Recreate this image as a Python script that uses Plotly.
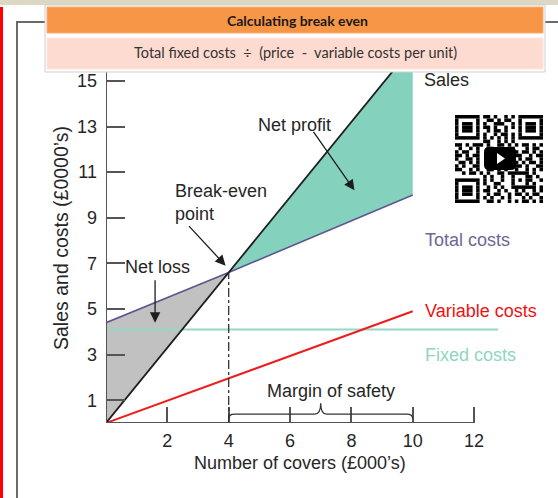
import plotly.graph_objects as go

# ---------------- data ----------------
covers = [0, 4, 10]                 # number of covers (£000's); break-even at 4
sales = [0, 6.6, 16.5]              # sales (£0000's)
total_costs = [4.4, 6.6, 10.0]
variable_costs = [0, 1.96, 4.9]
fixed_costs = 4.1
fixed_span = [0, 12.78]
x_ticks = [2, 4, 6, 8, 10, 12]
y_ticks = [1, 3, 5, 7, 9, 11, 13, 15]
title_text = "Calculating break even"
subtitle_text = "Total fixed costs  \u00f7  (price  -  variable costs per unit)"

# ---------------- geometry helpers ----------------
W, H = 558, 498
L, R, T, B = 106, 60, 72, 75
PW, PH = W - L - R, H - T - B
X_MAX = 12.78
Y_MAX = 15.39


def px(x):
    return (x - L) / PW


def py(y):
    return (H - B - y) / PH


FONT = "Liberation Sans, Arial, sans-serif"
TXT = "#262626"

fig = go.Figure()

# net loss area (grey)
fig.add_trace(go.Scatter(
    x=[covers[0], covers[0], covers[1], covers[0]],
    y=[sales[0], total_costs[0], total_costs[1], sales[0]],
    fill="toself", fillcolor="#c1c1c1", mode="lines", line=dict(width=0),
    hoverinfo="skip", showlegend=False))
# net profit area (teal)
fig.add_trace(go.Scatter(
    x=[covers[1], covers[2], covers[2], covers[1]],
    y=[sales[1], sales[2], total_costs[2], total_costs[1]],
    fill="toself", fillcolor="#84d2bd", mode="lines", line=dict(width=0),
    hoverinfo="skip", showlegend=False))
# fixed costs
fig.add_trace(go.Scatter(x=fixed_span, y=[fixed_costs, fixed_costs], mode="lines",
                         line=dict(color="#95d8c6", width=2), showlegend=False))
# variable costs
fig.add_trace(go.Scatter(x=covers, y=variable_costs, mode="lines",
                         line=dict(color="#ee1c1c", width=2), showlegend=False))
# total costs
fig.add_trace(go.Scatter(x=covers, y=total_costs, mode="lines",
                         line=dict(color="#5e5590", width=1.6), showlegend=False))
# sales
fig.add_trace(go.Scatter(x=covers, y=sales, mode="lines",
                         line=dict(color="#1e1e1e", width=1.8), showlegend=False))

shapes = []
# axes lines
shapes.append(dict(type="line", xref="x", yref="y", x0=0, x1=x_ticks[-1], y0=0, y1=0,
                   line=dict(color="#555", width=2), layer="above"))
shapes.append(dict(type="line", xref="x", yref="y", x0=0, x1=0, y0=0, y1=Y_MAX,
                   line=dict(color="#555", width=2), layer="above"))
# break-even drop line
shapes.append(dict(type="line", xref="x", yref="y", x0=covers[1], x1=covers[1], y0=0, y1=sales[1],
                   line=dict(color="#333", width=1.3, dash="dashdot"), layer="above"))
# margin of safety brace
bx0, bx1 = covers[1], covers[2]
bm = (bx0 + bx1) / 2
by = 0.39
brace = (f"M {bx0},{by-0.2} Q {bx0},{by} {bx0+0.2},{by} L {bm-0.2},{by} "
         f"Q {bm},{by} {bm},{by+0.48} Q {bm},{by} {bm+0.2},{by} L {bx1-0.2},{by} "
         f"Q {bx1},{by} {bx1},{by-0.2}")
shapes.append(dict(type="path", xref="x", yref="y", path=brace,
                   line=dict(color="#333", width=1.3), layer="above"))


def prect(x0, y0, x1, y1, fill, line=None, lw=0):
    return dict(type="rect", xref="paper", yref="paper",
                x0=px(x0), x1=px(x1), y0=py(y1), y1=py(y0),
                fillcolor=fill, line=dict(color=line or fill, width=lw), layer="above")


# page decorations
shapes.append(prect(0, 0, 558, 5, "#ddd8c3"))
shapes.append(prect(0, 7, 3, 498, "#ff0000"))
shapes.append(dict(type="path", xref="paper", yref="paper",
                   path=f"M {px(17)},{py(498)} L {px(17)},{py(22)} L {px(558)},{py(22)}",
                   line=dict(color="#6a6a6a", width=2), layer="above"))
shapes.append(prect(45, 5, 545, 72, "#ffffff", "#cfcfcf", 1))
shapes.append(prect(47, 7, 543, 33, "#f79646", "#f9ad75", 1))
shapes.append(prect(47, 38, 543, 69, "#fddbd0", "#fde6df", 1))

# QR code (approximation)
qr_rows = [
    "#######.##.#..#.#.#######",
    "#.....#..##.#.##..#.....#",
    "#.###.#.#..###..#.#.###.#",
    "#.###.#.##.#..#.#.#.###.#",
    "#.###.#..#.##.#...#.###.#",
    "#.....#.#..#.##.#.#.....#",
    "#######.#.#.#.#.#.#######",
    "........##..#.#.#........",
    "##.#.###.#..##.#.#.##.#.#",
    ".#..#.#..##.#..##...#.##.",
    "#.##..#..........#.##.#.#",
    "##.#.##..........##..#.##",
    "#..##.#...........#.##..#",
    ".##.#.#..........#.#.##.#",
    "#.#..##..........##.#..##",
    "##..#.#..##.#.#..#..#.#.#",
    "..#.##.#.#..##.######.#..",
    "........#.#..#..#...##.#.",
    "#######.#.#..#..#.#.##..#",
    "#.....#.#..##...#...#.#..",
    "#.###.#..#.#.#..#######.#",
    "#.###.#.##..#.#..#.#..#.#",
    "#.###.#..#.##..#.##.#.##.",
    "#.....#.#.#..#.#...#.#..#",
    "#######..##.#..#.#.##.#.#",
]
qx0, qy0, cell = 455.0, 115.0, 3.52
for r, row in enumerate(qr_rows):
    row = row[:25].ljust(25, ".")
    c = 0
    while c < 25:
        if row[c] == "#":
            s = c
            while c < 25 and row[c] == "#":
                c += 1
            shapes.append(prect(qx0 + s * cell, qy0 + r * cell, qx0 + c * cell,
                                qy0 + (r + 1) * cell, "#000000"))
        else:
            c += 1
# play button
pbx0, pby0, pbx1, pby1, rr = 484, 147, 516, 170, 5
play = (f"M {px(pbx0+rr)},{py(pby0)} L {px(pbx1-rr)},{py(pby0)} Q {px(pbx1)},{py(pby0)} {px(pbx1)},{py(pby0+rr)} "
        f"L {px(pbx1)},{py(pby1-rr)} Q {px(pbx1)},{py(pby1)} {px(pbx1-rr)},{py(pby1)} "
        f"L {px(pbx0+rr)},{py(pby1)} Q {px(pbx0)},{py(pby1)} {px(pbx0)},{py(pby1-rr)} "
        f"L {px(pbx0)},{py(pby0+rr)} Q {px(pbx0)},{py(pby0)} {px(pbx0+rr)},{py(pby0)} Z")
shapes.append(dict(type="path", xref="paper", yref="paper", path=play,
                   fillcolor="#000", line=dict(color="#000", width=0), layer="above"))
tri = f"M {px(497)},{py(153)} L {px(505)},{py(158.5)} L {px(497)},{py(164)} Z"
shapes.append(dict(type="path", xref="paper", yref="paper", path=tri,
                   fillcolor="#fff", line=dict(color="#fff", width=0), layer="above"))

annotations = []


def ptext(text, x, y, color=TXT, size=18, xanchor="center", family=FONT, angle=0, align="center"):
    annotations.append(dict(text=text, xref="paper", yref="paper", x=px(x), y=py(y),
                            xanchor=xanchor, yanchor="middle", showarrow=False,
                            textangle=angle, align=align,
                            font=dict(family=family, size=size, color=color)))


# header texts
ptext(f"<b>{title_text}</b>", 297, 20, "#1a1a1a", 14, family="Lato, Carlito, sans-serif")
ptext(subtitle_text, 295, 53, "#333333", 14.5, family="Lato, Carlito, sans-serif")

# axis titles
ptext("Sales and costs (\u00a30000\u2019s)", 61, 238, angle=-90, size=19.5)
ptext("Number of covers (\u00a3000\u2019s)", 300, 463)

# line labels
ptext("Sales", 422, 80, xanchor="left")
ptext("Total costs", 423, 240, "#6c6891", xanchor="left")
ptext("Variable costs", 423, 311, "#ee1111", xanchor="left")
ptext("Fixed costs", 423, 355, "#8fd5c3", xanchor="left")
ptext("Net profit", 294, 125)
ptext("Break-even<br>point", 173, 202, xanchor="left", align="left")
ptext("Net loss", 123, 267, xanchor="left")
ptext("Margin of safety", 331, 391)


def arrow(hx, hy, ax, ay):
    annotations.append(dict(text="", xref="x", yref="y", x=hx, y=hy, ax=ax, ay=ay,
                            showarrow=True, arrowhead=2, arrowsize=1.6, arrowwidth=1.3,
                            arrowcolor="#1e1e1e", standoff=0))


arrow(1.6, 4.4, 0, -44)
arrow(3.9, 6.9, -38, -41)
arrow(8.1, 10.2, -42, -60)

fig.update_layout(
    width=W, height=H, margin=dict(l=L, r=R, t=T, b=B),
    paper_bgcolor="#ffffff", plot_bgcolor="rgba(0,0,0,0)",
    shapes=shapes, annotations=annotations, showlegend=False,
    xaxis=dict(range=[0, X_MAX], tickvals=x_ticks, ticks="inside", ticklen=16, tickwidth=1.5,
               tickcolor="#555", showline=False, showgrid=False, zeroline=False,
               ticklabelstandoff=5,
               tickfont=dict(family=FONT, size=18, color=TXT), fixedrange=True),
    yaxis=dict(range=[0, Y_MAX], tickvals=y_ticks, ticks="inside", ticklen=19, tickwidth=1.5,
               tickcolor="#555", showline=False, showgrid=False, zeroline=False,
               ticklabelstandoff=8,
               tickfont=dict(family=FONT, size=18, color=TXT), fixedrange=True),
)

fig.write_html("out.html", config={"displayModeBar": False},
               post_script="document.body.style.margin='0';document.body.style.padding='0';")
